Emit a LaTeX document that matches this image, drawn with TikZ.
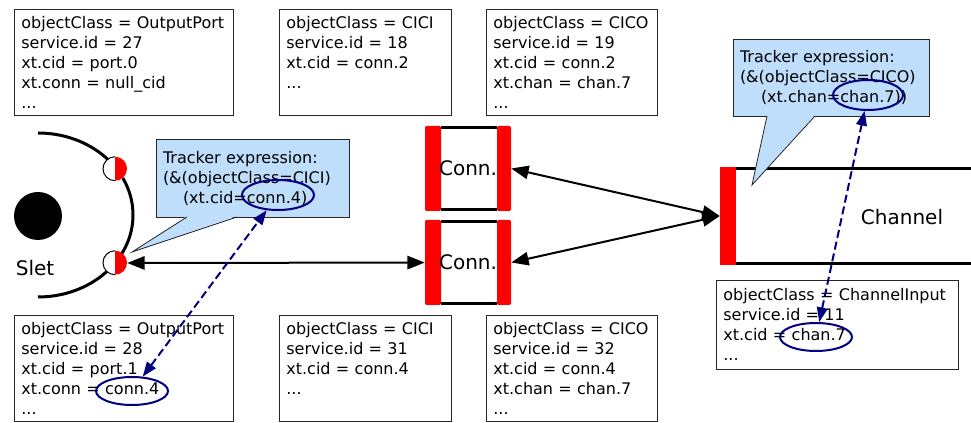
\documentclass[tikz,border=0pt]{standalone}
\usepackage{fontspec}
\setmainfont{DejaVu Sans}
\usepackage{tikz}
\usetikzlibrary{arrows.meta, shapes.geometric, positioning}
\definecolor{calloutblue}{RGB}{190,222,252}
\definecolor{trackblue}{RGB}{0,0,128}
\definecolor{connred}{RGB}{255,0,0}

\begin{document}
\begin{tikzpicture}[x=0.75pt, y=-0.75pt,
    attrbox/.style={draw=black!85, line width=0.6pt, anchor=north west, align=left,
        inner xsep=5.25pt, inner ysep=0pt, font=\fontsize{12}{15}\selectfont},
    callout/.style={draw=black!85, line width=0.6pt, fill=calloutblue, align=left,
        inner xsep=5.25pt, inner ysep=0pt, font=\fontsize{12}{15}\selectfont},
    port/.style={circle, fill=white, inner sep=0pt, minimum size=18pt},
    connblock/.style={inner sep=0pt, minimum width=64.5pt, minimum height=63.75pt,
        font=\fontsize{15}{18}\selectfont},
    wire/.style={line width=2.25pt},
    link/.style={line width=1.5pt, <->, >={Triangle[length=13pt, width=10pt]}},
    ring/.style={ellipse, draw=trackblue, line width=1.5pt, inner sep=0pt},
    track/.style={trackblue, line width=1.5pt, dash pattern=on 6pt off 3pt,
        <->, >={Triangle[length=11pt, width=8pt]}}]

    \useasboundingbox (0,0) rectangle (971,423);

    % Attribute boxes, top row
    \node[attrbox, text width=153.75pt, minimum height=79.5pt] (outA) at (14,9)
        {objectClass = OutputPort\\service.id = 27\\xt.cid = port.0\\xt.conn = null\_cid\\...};
    \node[attrbox, text width=118.5pt, minimum height=79.5pt] (ciciA) at (279,9)
        {objectClass = CICI\\service.id = 18\\xt.cid = conn.2\\...\\\mbox{}};
    \node[attrbox, text width=117.75pt, minimum height=79.5pt] (cicoA) at (486,9)
        {objectClass = CICO\\service.id = 19\\xt.cid = conn.2\\xt.chan = chan.7\\...};

    % Attribute boxes, bottom row
    \node[attrbox, text width=153.75pt, minimum height=79.5pt] (outB) at (14,315)
        {objectClass = OutputPort\\service.id = 28\\xt.cid = port.1\\xt.conn = conn.4\\...};
    \node[attrbox, text width=118.5pt, minimum height=79.5pt] (ciciB) at (279,315)
        {objectClass = CICI\\service.id = 31\\xt.cid = conn.4\\...\\\mbox{}};
    \node[attrbox, text width=117.75pt, minimum height=79.5pt] (cicoB) at (486,315)
        {objectClass = CICO\\service.id = 32\\xt.cid = conn.4\\xt.chan = chan.7\\...};
    \node[attrbox, text width=171pt, minimum height=66.75pt] (chanin) at (716,280)
        {objectClass = ChannelInput\\service.id = 11\\xt.cid = chan.7\\...};

    % Slet with its two ports
    \node[circle, fill=black, inner sep=0pt, minimum size=36pt] (sletcore) at (38,216) {};
    \node[font=\fontsize{15}{18}\selectfont] (sletname) at (35,268) {Slet};
    \draw[wire] (38,133) arc[start angle=90, end angle=-90, x radius=71.25pt, y radius=61.5pt];
    \foreach \p/\y in {portA/169, portB/263} {
        \node[port] (\p) at (115,\y) {};
        \fill[connred] (\p.north) arc[start angle=90, end angle=-90, radius=9pt] -- cycle;
        \draw[line width=0.75pt] (\p.north) arc[start angle=90, end angle=270, radius=9pt];
    }

    % Connections
    \foreach \n/\ytop in {connA/126, connB/220} {
        \draw[line width=2pt] (441,\ytop+1.5) -- (497,\ytop+1.5);
        \draw[line width=2pt] (441,\ytop+83.5) -- (497,\ytop+83.5);
        \fill[connred, rounded corners=1pt] (425,\ytop) rectangle (441,\ytop+85);
        \fill[connred, rounded corners=1pt] (497,\ytop) rectangle (511,\ytop+85);
        \node[connblock] (\n) at (468,\ytop+42.5) {Conn.};
    }

    % Channel
    \draw[wire] (736,168.5) -- (971,168.5);
    \draw[wire] (736,263.5) -- (971,263.5);
    \node[fill=connred, inner sep=0pt, minimum width=12pt, minimum height=73.5pt] (chanbar) at (728,216) {};
    \node[font=\fontsize{15}{18}\selectfont] (channame) at (902,217) {Channel};

    \draw[link] (portB) -- (connB);
    \draw[link] (connA.east) -- (chanbar.west);
    \draw[link] (connB.east) -- (chanbar.west);

    % Tracker callouts
    \node[callout, text width=134.25pt, minimum height=58.5pt] (trackA) at (252.5,178)
        {Tracker expression:\\(\&(objectClass=CICI)\\\hspace*{15pt}(xt.cid=conn.4)};
    \coordinate (tipA) at (132,252);
    \fill[calloutblue] (187,216) -- (tipA) -- (237,216) -- cycle;
    \draw[line width=0.6pt, black!85] (187,217) -- (tipA) -- (237,217);

    \node[callout, text width=136.5pt, minimum height=57.75pt] (trackB) at (831,77.5)
        {Tracker expression:\\(\&(objectClass=CICO)\\\hspace*{15.75pt}(xt.chan=chan.7))};
    \coordinate (tipB) at (752,185);
    \fill[calloutblue] (767,115) -- (tipB) -- (815,115) -- cycle;
    \draw[line width=0.6pt, black!85] (767,116) -- (tipB) -- (815,116);

    % Matched values
    \node[ring, minimum width=54pt, minimum height=22.5pt] (ringA) at (278,195) {};
    \node[ring, minimum width=52.5pt, minimum height=22.5pt] (ringB) at (868,95) {};
    \node[ring, minimum width=54pt, minimum height=21pt] (ringC) at (132,391) {};
    \node[ring, minimum width=54pt, minimum height=21pt] (ringD) at (816,337) {};

    \draw[track] (ringC) -- (ringA);
    \draw[track] (ringD) -- (ringB);
\end{tikzpicture}
\end{document}
